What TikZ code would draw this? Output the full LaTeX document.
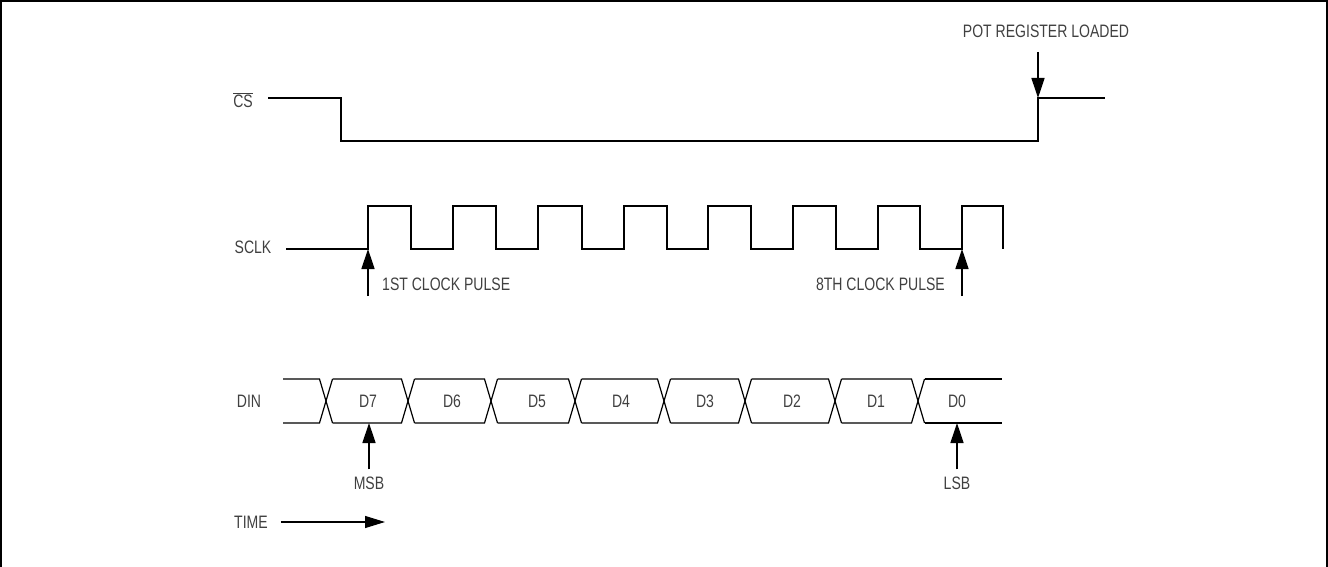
\documentclass[tikz,border=0pt]{standalone}
\usepackage{fontspec}
\setmainfont[FakeStretch=0.78]{Liberation Sans}
\usetikzlibrary{arrows.meta}
\begin{document}
\begin{tikzpicture}[x=1pt,y=-1pt,
  wave/.style={line width=1.2pt,line join=miter},
  lbl/.style={font=\fontsize{18}{18}\selectfont,text=black!75,inner sep=0pt},
  marker/.style={line width=1.4pt,-{Triangle[length=20pt,width=13pt]}}]
\useasboundingbox (0,0) rectangle (1328,567);
\draw[line width=2.5pt] (1,567) -- (1,1) -- (1327,1) -- (1327,567);

% CS
\node[lbl] (cslbl) at (243,100) {$\overline{\mbox{CS}}$};
\draw[wave] (268,98) -- (341,98) -- (341,141) -- (1038,141) -- (1038,98) coordinate (csrise) -- (1105,98);
\node[lbl] (potlbl) at (1046,31) {POT REGISTER LOADED};
\coordinate (pottail) at (1038,52);
\draw[marker] (pottail) -- (csrise);

% SCLK
\node[lbl] (sclklbl) at (253,247.5) {SCLK};
\draw[wave] (286,249) -- (368,249) coordinate (r1)
  -- (368,206) -- (411,206) -- (411,249) -- (453,249) -- (453,206) -- (496,206) -- (496,249)
  -- (538,249) -- (538,206) -- (582,206) -- (582,249) -- (624,249) -- (624,206) -- (667,206) -- (667,249)
  -- (708,249) -- (708,206) -- (751,206) -- (751,249) -- (793,249) -- (793,206) -- (836,206) -- (836,249)
  -- (878,249) -- (878,206) -- (920,206) -- (920,249) -- (962,249) coordinate (r8)
  -- (962,206) -- (1003,206) -- (1003,249);
\coordinate (c1tail) at (368,296);
\coordinate (c8tail) at (962,296);
\draw[marker] (c1tail) -- (r1);
\draw[marker] (c8tail) -- (r8);
\node[lbl,anchor=west] (c1lbl) at (382,284) {1ST CLOCK PULSE};
\node[lbl,anchor=east] (c8lbl) at (945,284) {8TH CLOCK PULSE};

% DIN
\node[lbl] (dinlbl) at (249,401) {DIN};
\def\hw{6.5}
\draw[wave] (283,379) -- (326-\hw,379) -- (326+\hw,423);
\draw[wave] (283,423) -- (326-\hw,423) -- (326+\hw,379);
\foreach \a/\b in {326/408,408/491,491/575,575/664,664/745,745/835,835/918}{
  \draw[wave] (\a+\hw,379) -- (\b-\hw,379) -- (\b+\hw,423);
  \draw[wave] (\a+\hw,423) -- (\b-\hw,423) -- (\b+\hw,379);
}
\draw[wave] (918+\hw,379) -- (1002,379);
\draw[wave] (918+\hw,423) -- (1002,423);
\foreach \t/\x in {D7/368,D6/452,D5/537,D4/621,D3/705,D2/792,D1/876,D0/957}{
  \node[lbl] (n\t) at (\x,401) {\t};
}
\coordinate (msbtip) at (369,423);
\coordinate (lsbtip) at (957,423);
\node[lbl] (msblbl) at (369,483) {MSB};
\node[lbl] (lsblbl) at (957,483) {LSB};
\draw[marker] (msblbl.north) ++(0,-7) -- (msbtip);
\draw[marker] (lsblbl.north) ++(0,-7) -- (lsbtip);

% TIME
\node[lbl] (timelbl) at (251,522) {TIME};
\coordinate (timeend) at (385,522);
\draw[line width=1.2pt,-{Triangle[length=20pt,width=12pt]}] (timelbl.east) ++(13,0) -- (timeend);
\end{tikzpicture}
\end{document}
